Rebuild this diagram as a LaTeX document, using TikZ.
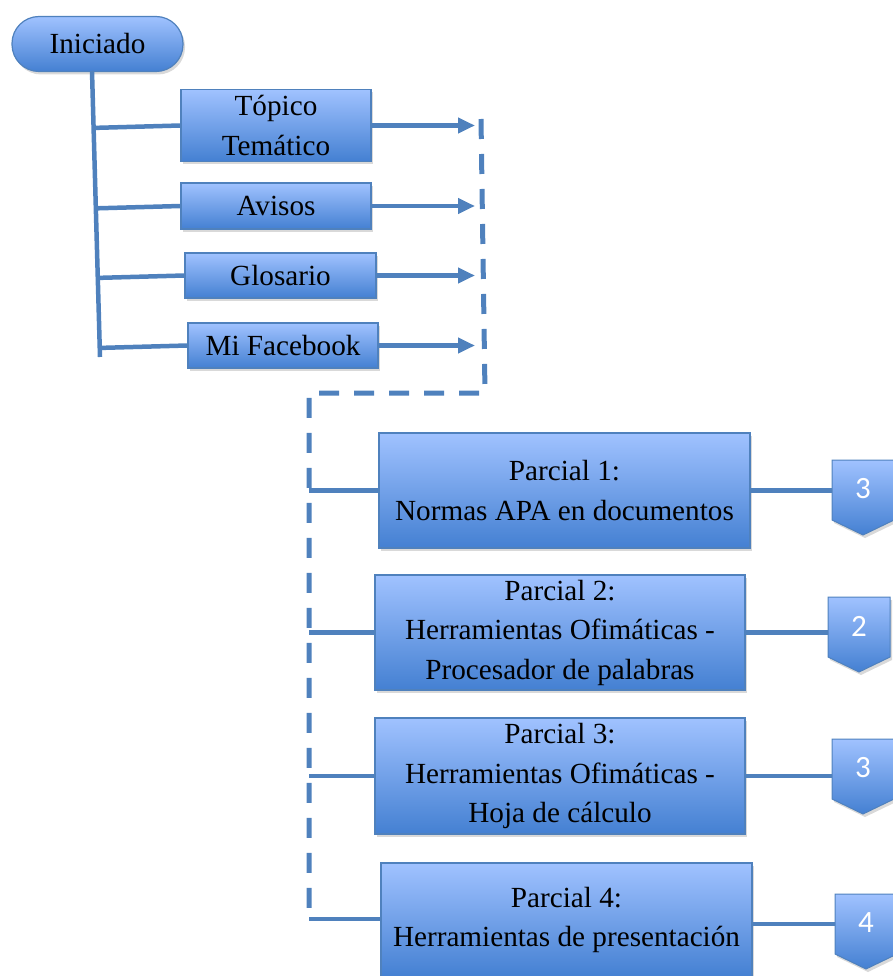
\documentclass[tikz,border=0pt]{standalone}
\usepackage{fontspec}
\setmainfont{Liberation Serif}
\newfontfamily\numfont{Carlito}
\usetikzlibrary{arrows.meta,positioning,calc,shadows}
\definecolor{linea}{HTML}{4F81BD}
\definecolor{cajasup}{HTML}{A0C2FF}
\definecolor{cajainf}{HTML}{4480D2}

\begin{document}
\begin{tikzpicture}[x=1pt,y=-1pt,
  caja/.style={draw=linea,line width=1.2pt,top color=cajasup,bottom color=cajainf,align=center,inner sep=0pt,
    font=\fontsize{29.2}{39.5}\selectfont,drop shadow={opacity=0.3,shadow xshift=2pt,shadow yshift=-3pt}},
  marca/.style={draw=linea,line width=1pt,top color=cajasup,bottom color=cajainf,
    drop shadow={opacity=0.3,shadow xshift=2pt,shadow yshift=-3pt}},
  numero/.style={minimum width=62pt,minimum height=59pt,inner sep=0pt,text=white,font=\numfont\fontsize{31}{34}\selectfont},
  rama/.style={draw=linea,line width=4.5pt},
  flecha/.style={rama,-{Triangle[length=17pt,width=15pt]}},
  guion/.style={rama,line width=5pt,dash pattern=on 20pt off 15pt}]
\useasboundingbox (0,0) rectangle (892,976);
\node[caja,rounded corners=27pt,minimum width=171pt,minimum height=55pt] (ini) at (97.5,44) {Iniciado};
\node[caja,minimum width=190pt,minimum height=72pt] (top) at (276,125.5) {Tópico\\Temático};
\node[caja,minimum width=190pt,minimum height=46pt] (avi) at (276,206) {Avisos};
\node[caja,minimum width=191pt,minimum height=45pt] (glo) at (280.5,275.5) {Glosario};
\node[caja,minimum width=190pt,minimum height=45pt] (fb) at (283,345.5) {Mi Facebook};
\node[caja,minimum width=371pt,minimum height=115pt] (p1) at (564.5,490.5) {Parcial 1:\\Normas APA en documentos};
\node[caja,minimum width=370pt,minimum height=115pt] (p2) at (560,632.5) {Parcial 2:\\Herramientas Ofimáticas -\\Procesador de palabras};
\node[caja,minimum width=370pt,minimum height=116pt] (p3) at (560,776) {Parcial 3:\\Herramientas Ofimáticas -\\Hoja de cálculo};
\node[caja,minimum width=371pt,minimum height=114pt] (p4) at (566.5,920) {Parcial 4:\\Herramientas de presentación};
\foreach \n/\x/\y/\t in {c1/863/460/3,c2/859/597/2,c3/863/739/3,c4/866/894/4}{
  \draw[marca] (\x-31,\y) -- ++(62,0) -- ++(0,60) -- ++(-31,15) -- ++(-31,-15) -- cycle;
  \node[numero] (\n) at (\x,\y+29) {\t};
}
\coordinate (t0) at (92,71);
\coordinate (t1) at (100,357);
\coordinate (fin) at (475,0);
\coordinate (d0) at (481,119);
\coordinate (d1) at (485,393);
\coordinate (d2) at (309,393);
\coordinate (d3) at (309,919);
\draw[rama] (t0) -- (t1);
\foreach \n in {top,avi,glo,fb}{
  \draw[rama] ($(t0)!(\n.west)!(t1)$) -- (\n.west);
  \draw[flecha] (\n.east) -- (\n.east -| fin);
}
\draw[guion] (d0) -- (d1) -- (d2) -- (d3);
\draw[rama] (d3) -- (p4.west |- d3);
\foreach \n in {p1,p2,p3}
  \draw[rama] (\n.west -| d2) -- (\n.west);
\foreach \n/\m in {p1/c1,p2/c2,p3/c3}
  \draw[rama] (\n.east) -- (\n.east -| \m.west);
\draw[rama] ([yshift=-4pt]p4.east) -- ([yshift=-4pt]p4.east -| c4.west);
\end{tikzpicture}
\end{document}
